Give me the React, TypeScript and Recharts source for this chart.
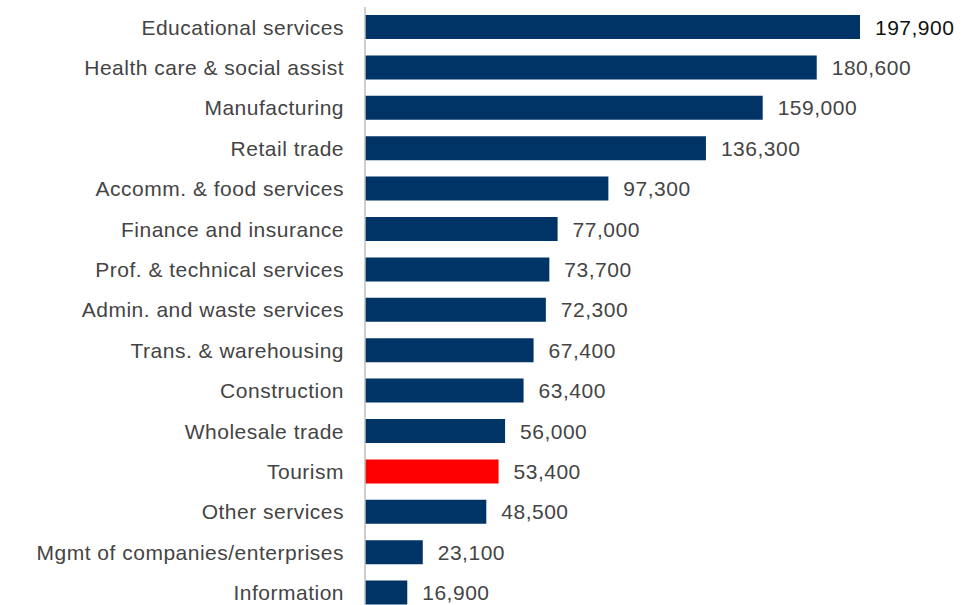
import React from 'react';
import { BarChart, Bar, XAxis, YAxis, Cell, LabelList } from 'recharts';

const industries = [
  'Educational services',
  'Health care & social assist',
  'Manufacturing',
  'Retail trade',
  'Accomm. & food services',
  'Finance and insurance',
  'Prof. & technical services',
  'Admin. and waste services',
  'Trans. & warehousing',
  'Construction',
  'Wholesale trade',
  'Tourism',
  'Other services',
  'Mgmt of companies/enterprises',
  'Information',
];

const jobs = [197900, 180600, 159000, 136300, 97300, 77000, 73700, 72300, 67400, 63400, 56000, 53400, 48500, 23100, 16900];

const highlight = 'Tourism';

const NAVY = '#003366';
const RED = '#ff0000';
const FONT = '"Liberation Sans", Arial, sans-serif';

const data = industries.map((name, i) => ({ name, value: jobs[i] }));

const ValueLabel = (props: any) => {
  const { x, y, width, height, value, index } = props;
  return (
    <text
      x={x + width + 15}
      y={y + height / 2}
      dominantBaseline="central"
      fontFamily={FONT}
      fontSize={21}
      letterSpacing={0.5}
      fill={index === 0 ? '#111111' : '#444444'}
    >
      {Number(value).toLocaleString('en-US')}
    </text>
  );
};

export default function App() {
  return (
    <div style={{ position: 'absolute', top: 0, left: 0, width: 974, height: 605, overflow: 'hidden', background: '#fff' }}>
      <BarChart
        width={974}
        height={613}
        data={data}
        layout="vertical"
        margin={{ top: 7, right: 114, bottom: 0, left: 0 }}
      >
        <XAxis type="number" hide domain={[0, 197900]} allowDataOverflow />
        <YAxis
          type="category"
          dataKey="name"
          width={365}
          tickLine={false}
          tickSize={0}
          tickMargin={21}
          axisLine={{ stroke: '#bfbfbf', strokeWidth: 1.5 }}
          tick={{ fill: '#444444', fontSize: 21, fontFamily: FONT, letterSpacing: 0.5 }}
          interval={0}
        />
        <Bar dataKey="value" barSize={24} isAnimationActive={false}>
          {data.map((d) => (
            <Cell key={d.name} fill={d.name === highlight ? RED : NAVY} />
          ))}
          <LabelList dataKey="value" content={ValueLabel} />
        </Bar>
      </BarChart>
    </div>
  );
}
